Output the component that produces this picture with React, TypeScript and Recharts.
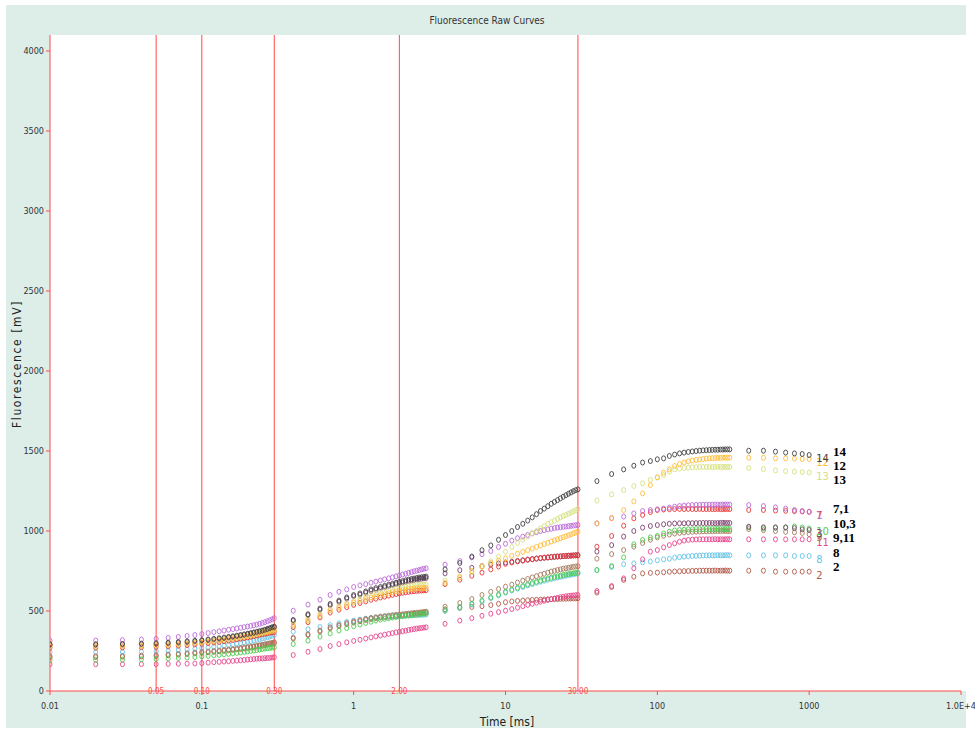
import React from 'react';
import { ScatterChart, Scatter, XAxis, YAxis, ReferenceLine } from 'recharts';

// sample times [ms]
const TIME = [
  0.01, 0.02, 0.03, 0.04, 0.05, 0.06, 0.07, 0.08, 0.09, 0.1,
  0.11, 0.12, 0.13, 0.14, 0.15, 0.16, 0.17, 0.18, 0.19, 0.2,
  0.21, 0.22, 0.23, 0.24, 0.25, 0.26, 0.27, 0.28, 0.29, 0.3,
  0.4, 0.5, 0.6, 0.7, 0.8, 0.9, 1, 1.1, 1.2, 1.3, 1.4, 1.5, 1.6, 1.7, 1.8, 1.9, 2,
  2.1, 2.2, 2.3, 2.4, 2.5, 2.6, 2.7, 2.8, 2.9, 3,
  4, 5, 6, 7, 8, 9, 10, 11, 12, 13, 14, 15, 16, 17, 18, 19, 20,
  21, 22, 23, 24, 25, 26, 27, 28, 29, 30,
  40, 50, 60, 70, 80, 90, 100, 110, 120, 130, 140, 150, 160, 170, 180, 190, 200,
  210, 220, 230, 240, 250, 260, 270, 280, 290, 300,
  400, 500, 600, 700, 800, 900, 1000,
];

// fluorescence [mV], one list per curve
const purple = [
  314, 315, 318, 322, 326, 332, 338, 344, 350, 356, 362, 368, 373, 378, 383, 387, 391, 395, 399, 403, 407, 411, 415, 420, 425, 430, 436, 442, 448, 455,
  502, 540, 570, 600, 620, 635, 650, 660, 668, 677, 684, 691, 698, 704, 710, 716, 722, 728, 733, 738, 743, 748, 752, 756, 760, 764, 767,
  790, 812, 835, 855, 875, 900, 920, 940, 955, 965, 975, 985, 993, 1000, 1005, 1010, 1014, 1018, 1021, 1024, 1026, 1028, 1030, 1032, 1034, 1036, 1038,
  1048, 1080, 1090, 1110, 1125, 1131, 1135, 1140, 1146, 1152, 1156, 1159, 1161, 1162, 1163, 1163, 1164, 1164, 1164, 1165, 1165, 1165, 1164, 1165, 1166, 1165, 1165,
  1162, 1156, 1148, 1140, 1131, 1125, 1119,
];
const black = [
  292, 292, 294, 296, 298, 302, 306, 310, 314, 318, 322, 326, 330, 334, 338, 342, 346, 350, 354, 358, 362, 366, 370, 374, 378, 383, 388, 393, 398, 402,
  444, 480, 515, 544, 565, 585, 600, 610, 622, 635, 643, 650, 657, 664, 670, 676, 682, 687, 692, 696, 700, 703, 706, 709, 711, 713, 715,
  760, 800, 840, 880, 910, 945, 975, 1000, 1025, 1045, 1065, 1085, 1105, 1125, 1140, 1155, 1170, 1182, 1193, 1204, 1214, 1224, 1233, 1241, 1249, 1255, 1260,
  1312, 1356, 1385, 1408, 1428, 1437, 1448, 1454, 1469, 1478, 1485, 1490, 1494, 1497, 1500, 1502, 1504, 1505, 1506, 1507, 1508, 1508, 1509, 1509, 1510, 1510, 1510,
  1502, 1502, 1496, 1490, 1485, 1481, 1475,
];
const darkPurple = [
  287, 287, 289, 291, 293, 297, 301, 305, 309, 313, 317, 321, 325, 329, 333, 337, 341, 345, 349, 353, 357, 361, 365, 369, 373, 378, 383, 388, 393, 397,
  438, 474, 508, 536, 557, 577, 592, 602, 614, 626, 634, 641, 648, 655, 661, 667, 673, 678, 683, 687, 691, 694, 697, 700, 702, 704, 706,
  735, 755, 770, 780, 790, 797, 803, 808, 813, 817, 821, 824, 827, 830, 832, 834, 836, 838, 840, 841, 843, 844, 845, 846, 847, 848, 849,
  871, 912, 965, 1000, 1021, 1031, 1037, 1042, 1045, 1047, 1048, 1048, 1049, 1049, 1049, 1050, 1050, 1050, 1050, 1050, 1049, 1050, 1050, 1051, 1050, 1050, 1050,
  1027, 1023, 1023, 1022, 1018, 1010, 1006,
];
const yellowGreen = [
  282, 282, 284, 286, 288, 291, 295, 299, 303, 308, 312, 316, 320, 324, 328, 332, 336, 340, 344, 348, 352, 356, 360, 364, 368, 372, 376, 380, 383, 386,
  419, 450, 480, 510, 530, 548, 562, 575, 588, 600, 608, 615, 622, 628, 634, 639, 644, 648, 652, 655, 658, 660, 662, 663, 664, 665, 666,
  690, 715, 745, 775, 810, 840, 870, 900, 925, 945, 965, 985, 1000, 1015, 1030, 1045, 1055, 1065, 1075, 1085, 1093, 1100, 1108, 1115, 1122, 1130, 1137,
  1190, 1229, 1256, 1281, 1298, 1319, 1335, 1350, 1371, 1385, 1390, 1394, 1396, 1398, 1399, 1400, 1400, 1400, 1400, 1400, 1400, 1401, 1400, 1400, 1401, 1400, 1400,
  1394, 1387, 1379, 1374, 1371, 1368, 1365,
];
const orange = [
  278, 278, 280, 282, 284, 287, 291, 295, 299, 303, 307, 311, 315, 319, 323, 327, 331, 335, 339, 343, 347, 351, 355, 359, 363, 366, 369, 372, 375, 377,
  410, 440, 470, 505, 522, 538, 552, 564, 575, 585, 592, 599, 605, 611, 617, 622, 626, 630, 633, 636, 638, 640, 641, 642, 643, 644, 645,
  675, 710, 750, 780, 800, 815, 829, 845, 858, 870, 880, 890, 900, 910, 918, 926, 934, 942, 948, 955, 961, 967, 973, 979, 985, 991, 996,
  1048, 1080, 1131, 1185, 1235, 1287, 1335, 1364, 1385, 1406, 1418, 1428, 1435, 1440, 1444, 1447, 1450, 1452, 1454, 1455, 1456, 1457, 1457, 1458, 1458, 1458, 1458,
  1458, 1458, 1454, 1454, 1452, 1450, 1450,
];
const red = [
  270, 270, 272, 274, 276, 279, 283, 287, 291, 295, 299, 303, 307, 311, 315, 319, 323, 327, 331, 335, 339, 343, 347, 351, 355, 358, 361, 364, 367, 370,
  400, 430, 460, 490, 508, 524, 538, 550, 560, 570, 577, 584, 590, 596, 601, 606, 610, 614, 617, 620, 622, 624, 626, 627, 628, 629, 630,
  668, 696, 720, 740, 760, 778, 795, 803, 810, 815, 820, 824, 828, 831, 834, 836, 838, 840, 841, 842, 843, 844, 845, 846, 847, 848, 848,
  902, 969, 1033, 1079, 1100, 1118, 1131, 1134, 1136, 1137, 1138, 1137, 1138, 1137, 1137, 1138, 1137, 1137, 1138, 1137, 1137, 1138, 1137, 1137, 1137, 1138, 1137,
  1131, 1131, 1128, 1126, 1124, 1122, 1120,
];
const blue = [
  242, 242, 244, 246, 248, 252, 256, 260, 264, 268, 272, 276, 280, 284, 288, 292, 296, 300, 304, 308, 312, 316, 320, 324, 328, 332, 336, 340, 345, 350,
  371, 386, 400, 412, 423, 432, 440, 446, 452, 456, 459, 462, 464, 466, 467, 468, 469, 470, 471, 472, 473, 474, 475, 476, 476, 477, 478,
  500, 520, 540, 560, 580, 598, 615, 628, 640, 650, 660, 668, 676, 683, 689, 695, 700, 705, 709, 713, 717, 721, 724, 727, 730, 733, 735,
  756, 775, 792, 798, 804, 810, 817, 823, 827, 833, 837, 840, 842, 844, 845, 846, 847, 847, 848, 848, 848, 849, 848, 848, 848, 849, 848,
  848, 848, 848, 848, 844, 844, 844,
];
const brown = [
  216, 217, 219, 221, 224, 228, 232, 236, 240, 244, 247, 250, 253, 256, 259, 262, 265, 268, 271, 274, 277, 280, 283, 286, 289, 292, 295, 298, 301, 305,
  333, 355, 378, 398, 412, 424, 434, 442, 450, 456, 461, 465, 468, 471, 474, 476, 478, 480, 482, 484, 486, 488, 489, 490, 492, 494, 496,
  527, 550, 575, 600, 620, 637, 652, 665, 678, 690, 700, 710, 718, 726, 733, 740, 746, 751, 756, 760, 764, 767, 770, 773, 776, 778, 780,
  827, 856, 881, 902, 925, 945, 960, 970, 978, 984, 988, 991, 993, 995, 996, 997, 998, 998, 999, 999, 1000, 1000, 1000, 1001, 1000, 1000, 1000,
  1012, 1005, 1000, 995, 992, 988, 980,
];
const brownRed = [
  211, 212, 214, 216, 219, 223, 227, 231, 235, 239, 242, 245, 248, 251, 254, 257, 260, 263, 266, 269, 272, 275, 278, 281, 284, 287, 290, 293, 296, 300,
  328, 350, 372, 392, 406, 418, 428, 436, 444, 450, 455, 459, 462, 465, 468, 470, 472, 474, 476, 478, 480, 482, 484, 485, 487, 489, 491,
  510, 520, 525, 530, 537, 545, 555, 560, 563, 565, 567, 569, 570, 571, 572, 573, 574, 575, 575, 576, 577, 577, 578, 578, 579, 579, 580,
  615, 650, 694, 714, 735, 738, 740, 742, 745, 747, 748, 749, 750, 751, 751, 752, 752, 752, 752, 752, 753, 752, 752, 752, 753, 752, 752,
  752, 752, 746, 746, 746, 746, 746,
];
const green = [
  195, 195, 196, 198, 200, 203, 206, 209, 212, 216, 220, 223, 226, 229, 232, 235, 238, 241, 244, 247, 250, 253, 256, 259, 262, 265, 267, 269, 271, 273,
  294, 315, 340, 360, 378, 393, 405, 415, 425, 433, 440, 446, 451, 455, 459, 462, 465, 468, 470, 472, 474, 476, 478, 480, 482, 484, 485,
  506, 525, 545, 565, 585, 603, 620, 633, 645, 656, 666, 675, 683, 690, 697, 703, 708, 713, 717, 721, 725, 728, 731, 734, 736, 738, 740,
  756, 781, 835, 917, 944, 960, 969, 985, 996, 1003, 1006, 1008, 1010, 1011, 1012, 1012, 1012, 1013, 1012, 1012, 1012, 1013, 1012, 1012, 1012, 1013, 1012,
  1023, 1017, 1020, 1023, 1029, 1022, 1016,
];
const pink = [
  167, 167, 167, 168, 168, 169, 170, 171, 172, 174, 177, 180, 182, 184, 186, 188, 190, 192, 194, 196, 198, 200, 202, 203, 204, 205, 206, 207, 209, 211,
  225, 245, 262, 281, 293, 304, 313, 320, 328, 335, 341, 347, 352, 357, 362, 366, 370, 374, 377, 381, 384, 387, 390, 392, 394, 396, 398,
  420, 440, 455, 470, 483, 493, 502, 512, 521, 530, 538, 545, 552, 558, 564, 569, 574, 578, 582, 586, 589, 592, 594, 596, 597, 599, 600,
  625, 656, 704, 767, 823, 871, 881, 898, 912, 923, 933, 940, 944, 946, 947, 948, 948, 948, 948, 948, 949, 948, 948, 948, 948, 949, 948,
  948, 948, 948, 948, 948, 948, 948,
];

const CURVES = [
  { name: '2', color: '#b25a48', values: brownRed },
  { name: '8', color: '#62c3e6', values: blue },
  { name: '11', color: '#e8458c', values: pink },
  { name: '9', color: '#a47a5c', values: brown },
  { name: '10', color: '#4ccc4c', values: green },
  { name: '3', color: '#7a3f6c', values: darkPurple },
  { name: '7', color: '#e63838', values: red },
  { name: '1', color: '#bb6ad8', values: purple },
  { name: '13', color: '#d6e07e', values: yellowGreen },
  { name: '12', color: '#ffbb38', values: orange },
  { name: '14', color: '#3e3e3e', values: black },
];

const MARKERS = [0.05, 0.1, 0.3, 2, 30];
const MARKER_LABELS = ['0.05', '0.10', '0.30', '2.00', '30.00'];
const X_TICKS = [0.01, 0.1, 1, 10, 100, 1000, 10000];
const Y_TICKS = [0, 500, 1000, 1500, 2000, 2500, 3000, 3500, 4000];
const SIDE_LABELS = ['14', '12', '13', '7,1', '10,3', '9,11', '8', '2'];
const SIDE_TOPS = [444, 458, 472, 501, 516, 530, 545, 559];

const AXIS = '#ff4a4a';
const NARROW = "'Liberation Sans Narrow', 'DejaVu Sans Condensed', 'Liberation Sans', Arial, sans-serif";
const LAST_T = TIME[TIME.length - 1];

const dot = (color: string, name: string) => (p: any) => {
  const { cx, cy, payload } = p;
  if (cx == null || cy == null) return <g />;
  return (
    <g>
      <ellipse cx={cx} cy={cy} rx={2} ry={2.5} fill="none" stroke={color} strokeWidth={0.9} />
      {payload && payload.t === LAST_T && (
        <text x={cx + 7} y={cy + 7} fontSize={11} fill={color} fontFamily={NARROW}>
          {name}
        </text>
      )}
    </g>
  );
};

export default function App() {
  return (
    <div style={{ position: 'absolute', left: 0, top: 0, width: 975, height: 733, background: '#fff' }}>
      <div style={{ position: 'absolute', left: 6, top: 5, width: 960, height: 723, background: '#ddeee9' }} />
      <div style={{ position: 'absolute', left: 50, top: 35, width: 916, height: 656, background: '#fff' }} />
      <div
        style={{
          position: 'absolute', left: 6, top: 15, width: 962, textAlign: 'center',
          fontFamily: NARROW, fontSize: 10, color: '#333',
        }}
      >
        Fluorescence Raw Curves
      </div>
      <div style={{ position: 'absolute', left: 6, top: 5 }}>
        <ScatterChart width={969} height={723} margin={{ top: 30, right: 14, bottom: 0, left: 0 }}>
          <XAxis
            dataKey="t"
            type="number"
            scale="log"
            domain={[0.01, 10000]}
            ticks={X_TICKS}
            allowDataOverflow
            height={37}
            tickFormatter={(v: number) => (v === 10000 ? '1.0E+4' : String(v))}
            axisLine={{ stroke: AXIS }}
            tickLine={{ stroke: AXIS }}
            tickSize={4}
            tickMargin={8}
            tick={{ fill: '#333', fontSize: 9, fontFamily: NARROW }}
          />
          <YAxis
            dataKey="v"
            type="number"
            domain={[0, 4100]}
            ticks={Y_TICKS}
            allowDataOverflow
            width={44}
            axisLine={{ stroke: AXIS }}
            tickLine={{ stroke: AXIS }}
            tickSize={4}
            tickMargin={2}
            tick={{ fill: '#333', fontSize: 9, fontFamily: NARROW }}
          />
          {MARKERS.map((m, i) => (
            <ReferenceLine
              key={m}
              x={m}
              stroke={AXIS}
              strokeWidth={1}
              label={(props: any) => {
                const vb = props.viewBox || {};
                return (
                  <text
                    x={vb.x}
                    y={(vb.y || 0) + (vb.height || 0) + 3}
                    textAnchor="middle"
                    fontSize={8}
                    fill={AXIS}
                    fontFamily={NARROW}
                  >
                    {MARKER_LABELS[i]}
                  </text>
                );
              }}
            />
          ))}
          {CURVES.map((c) => (
            <Scatter
              key={c.name}
              name={c.name}
              data={TIME.map((t, i) => ({ t, v: c.values[i] }))}
              shape={dot(c.color, c.name)}
              isAnimationActive={false}
            />
          ))}
        </ScatterChart>
      </div>
      <div style={{ position: 'absolute', left: 17, top: 364, width: 0, height: 0 }}>
        <div
          style={{
            position: 'absolute', left: -80, top: -8, width: 160, textAlign: 'center',
            transform: 'rotate(-90deg)', fontFamily: NARROW, fontSize: 12, letterSpacing: 1.6,
            color: '#222', whiteSpace: 'nowrap', lineHeight: '16px',
          }}
        >
          Fluorescence [mV]
        </div>
      </div>
      <div
        style={{
          position: 'absolute', left: 447, top: 715, width: 120, textAlign: 'center',
          fontFamily: NARROW, fontSize: 12, color: '#222',
        }}
      >
        Time [ms]
      </div>
      {SIDE_LABELS.map((s, i) => (
        <div
          key={s}
          style={{
            position: 'absolute', left: 833, top: SIDE_TOPS[i], lineHeight: '16px',
            fontFamily: "'Liberation Serif', 'Times New Roman', serif", fontWeight: 'bold', fontSize: 13, color: '#000',
          }}
        >
          {s}
        </div>
      ))}
    </div>
  );
}
